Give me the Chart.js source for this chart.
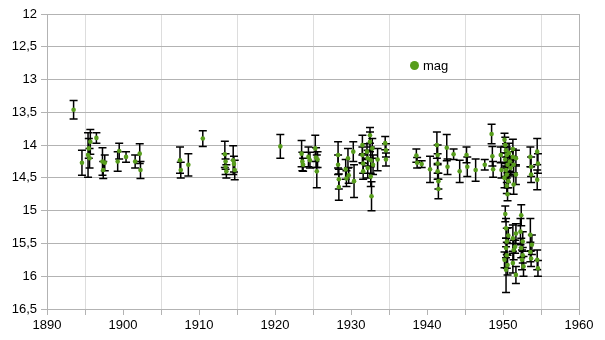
<!DOCTYPE html>
<html>
<head>
<meta charset="utf-8">
<script src="https://cdn.jsdelivr.net/npm/chart.js@4/dist/chart.umd.min.js"></script>
<style>
  body { margin: 0; background: #fff; }
  #wrap { position: relative; width: 605px; height: 340px; }
  #legend {
    position: absolute; left: 410px; top: 58px;
    font: 13px "Liberation Sans", Arial, sans-serif; color: #000;
    display: flex; align-items: center;
  }
  #legend .dot {
    width: 9px; height: 9px; border-radius: 50%;
    background: #579d1c; margin-right: 4px;
  }
</style>
</head>
<body>
<div id="wrap">
  <canvas id="magChart" width="605" height="340"></canvas>
  <div id="legend"><span class="dot"></span>mag</div>
</div>
<script>
// observation epochs (years), magnitudes and their errors
const years = [
  1893.5, 1894.6, 1895.4, 1895.5, 1895.6, 1895.7, 1896.5, 1897.3, 1897.4, 1897.6,
  1899.3, 1899.5, 1900.4, 1901.6, 1902.2, 1902.3, 1907.5, 1907.6, 1908.6, 1910.5,
  1913.4, 1913.5, 1913.5, 1913.6, 1914.5, 1914.6, 1914.7, 1920.7,
  1923.5, 1923.6, 1923.7, 1924.4, 1924.6, 1925.3, 1925.4, 1925.5, 1925.6,
  1928.3, 1928.3, 1928.4, 1928.4, 1929.3, 1929.4, 1929.6, 1929.7, 1930.3, 1930.4,
  1931.5, 1931.5, 1931.6, 1931.6, 1932.1, 1932.2, 1932.2, 1932.5, 1932.5, 1932.6,
  1932.6, 1932.7, 1932.8, 1932.9, 1933.5, 1934.5, 1934.6, 1934.6,
  1938.6, 1938.7, 1939.3, 1940.4, 1941.3, 1941.4, 1941.4, 1941.4, 1941.5, 1941.5,
  1942.6, 1942.7, 1943.5, 1944.3, 1945.2, 1945.3, 1946.4, 1947.6, 1948.5, 1948.6,
  1948.7, 1949.7, 1949.8,
  1950.2, 1950.3, 1950.4, 1950.5, 1950.3, 1950.6, 1950.4, 1950.5, 1950.7, 1950.5,
  1950.6, 1950.8, 1950.9, 1951.0, 1950.2, 1951.3, 1951.3, 1951.4, 1951.4, 1951.7,
  1951.7, 1953.6, 1953.7, 1953.7, 1954.5, 1954.6, 1954.5,
  1950.3, 1950.4, 1950.5, 1950.4, 1950.5, 1950.6, 1950.4, 1950.7, 1950.2, 1951.3,
  1951.4, 1951.3, 1951.7, 1951.7, 1951.6, 1952.4, 1952.3, 1952.4, 1952.5, 1952.6,
  1952.6, 1952.7, 1953.6, 1953.6, 1953.7, 1953.8, 1954.5, 1954.6
];
const mags = [
  13.46, 14.27, 14.15, 14.05, 14.20, 13.95, 13.89, 14.25, 14.38, 14.27,
  14.25, 14.09, 14.18, 14.25, 14.13, 14.38, 14.23, 14.38, 14.30, 13.90,
  14.14, 14.25, 14.33, 14.40, 14.23, 14.29, 14.38, 14.02,
  14.13, 14.25, 14.30, 14.18, 14.23, 14.05, 14.19, 14.40, 14.22,
  14.15, 14.30, 14.52, 14.64, 14.37, 14.51, 14.20, 14.46, 14.10, 14.55,
  14.00, 14.15, 14.28, 14.40, 14.10, 14.20, 14.35, 13.85, 13.95, 14.23,
  14.48, 14.78, 14.05, 14.30, 14.22, 13.97, 14.08, 14.22,
  14.16, 14.27, 14.29, 14.37, 14.00, 14.15, 14.28, 14.40, 14.55, 14.67,
  14.04, 14.33, 14.14, 14.40, 14.15, 14.33, 14.38, 14.30, 13.83, 14.17,
  14.37, 14.15, 14.38,
  13.92, 14.00, 14.08, 14.15, 14.22, 14.30, 14.38, 14.45, 14.55, 14.62,
  14.75, 14.12, 14.25, 14.35, 14.50, 14.06, 14.18, 14.30, 14.60, 14.20,
  14.45, 14.18, 14.33, 14.45, 14.10, 14.28, 14.53,
  15.05, 15.27, 15.47, 15.57, 15.68, 15.83, 15.90, 15.38, 15.75, 15.42,
  15.60, 15.80, 15.35, 15.98, 15.55, 15.07, 15.32, 15.57, 15.75, 15.47,
  15.68, 15.85, 15.37, 15.63, 15.73, 15.52, 15.75, 15.88
];
const errs = [
  0.14, 0.19, 0.34, 0.15, 0.15, 0.19, 0.08, 0.21, 0.13, 0.12,
  0.15, 0.12, 0.08, 0.10, 0.15, 0.13, 0.20, 0.12, 0.17, 0.12,
  0.20, 0.12, 0.12, 0.10, 0.22, 0.12, 0.15, 0.18,
  0.20, 0.14, 0.10, 0.15, 0.12, 0.20, 0.15, 0.25, 0.12,
  0.20, 0.15, 0.15, 0.20, 0.15, 0.12, 0.15, 0.12, 0.15, 0.25,
  0.15, 0.12, 0.15, 0.12, 0.12, 0.12, 0.15, 0.12, 0.15, 0.20,
  0.15, 0.22, 0.15, 0.15, 0.17, 0.10, 0.10, 0.10,
  0.10, 0.08, 0.05, 0.20, 0.20, 0.15, 0.15, 0.12, 0.12, 0.15,
  0.20, 0.12, 0.08, 0.17, 0.12, 0.15, 0.17, 0.08, 0.15, 0.15,
  0.12, 0.12, 0.12,
  0.10, 0.12, 0.10, 0.12, 0.10, 0.12, 0.10, 0.12, 0.10, 0.12,
  0.10, 0.15, 0.15, 0.12, 0.15, 0.15, 0.12, 0.12, 0.15, 0.12,
  0.15, 0.15, 0.15, 0.12, 0.20, 0.15, 0.15,
  0.12, 0.15, 0.20, 0.15, 0.20, 0.15, 0.35, 0.12, 0.12, 0.20,
  0.15, 0.15, 0.15, 0.13, 0.10, 0.16, 0.20, 0.15, 0.15, 0.15,
  0.12, 0.15, 0.25, 0.15, 0.12, 0.15, 0.15, 0.12
];

const GREEN = '#579d1c';
const GRID = '#b3b3b3';
const FONT = { family: '"Liberation Sans", Arial, sans-serif', size: 13 };

// vertical error bars with small caps, drawn under the points
const errorBars = {
  id: 'errorBars',
  beforeDatasetsDraw(chart) {
    const { ctx, scales: { x, y } } = chart;
    ctx.save();
    ctx.strokeStyle = '#000';
    ctx.lineWidth = 1.5;
    years.forEach((yr, i) => {
      const px = x.getPixelForValue(yr);
      const top = y.getPixelForValue(mags[i] - errs[i]);
      const bot = y.getPixelForValue(mags[i] + errs[i]);
      ctx.beginPath();
      ctx.moveTo(px, top); ctx.lineTo(px, bot);
      ctx.moveTo(px - 4, top); ctx.lineTo(px + 4, top);
      ctx.moveTo(px - 4, bot); ctx.lineTo(px + 4, bot);
      ctx.stroke();
    });
    ctx.restore();
  }
};

new Chart(document.getElementById('magChart'), {
  type: 'scatter',
  data: {
    datasets: [{
      label: 'mag',
      data: years.map((yr, i) => ({ x: yr, y: mags[i] })),
      backgroundColor: GREEN,
      borderWidth: 0,
      pointRadius: 2.3
    }]
  },
  options: {
    responsive: false,
    animation: false,
    layout: { padding: { top: 14, right: 26, left: 0, bottom: 0 } },
    plugins: { legend: { display: false }, tooltip: { enabled: false } },
    scales: {
      x: {
        type: 'linear',
        min: 1890, max: 1960,
        afterFit: s => { s.height = 31; },
        border: { color: GRID, width: 1 },
        grid: {
          // light lines at the mid-decades, darker frame line at the right edge
          color: c => {
            const v = c.tick ? c.tick.value : 0;
            if (v === 1960) return GRID;
            return v % 10 === 5 ? '#dddddd' : 'rgba(0,0,0,0)';
          },
          tickColor: GRID,
          tickLength: 6
        },
        ticks: {
          stepSize: 5,
          padding: 3,
          color: '#000',
          font: FONT,
          maxRotation: 0,
          autoSkip: false,
          callback: v => (v % 10 === 0 ? String(v) : '')
        }
      },
      y: {
        reverse: true,
        min: 12, max: 16.5,
        afterFit: s => { s.width = 47; },
        border: { color: GRID, width: 1 },
        grid: { color: GRID, tickColor: GRID, tickLength: 6 },
        ticks: {
          stepSize: 0.5,
          padding: 4,
          color: '#000',
          font: FONT,
          callback: v => String(v).replace('.', ',')
        }
      }
    }
  },
  plugins: [errorBars]
});
</script>
</body>
</html>
